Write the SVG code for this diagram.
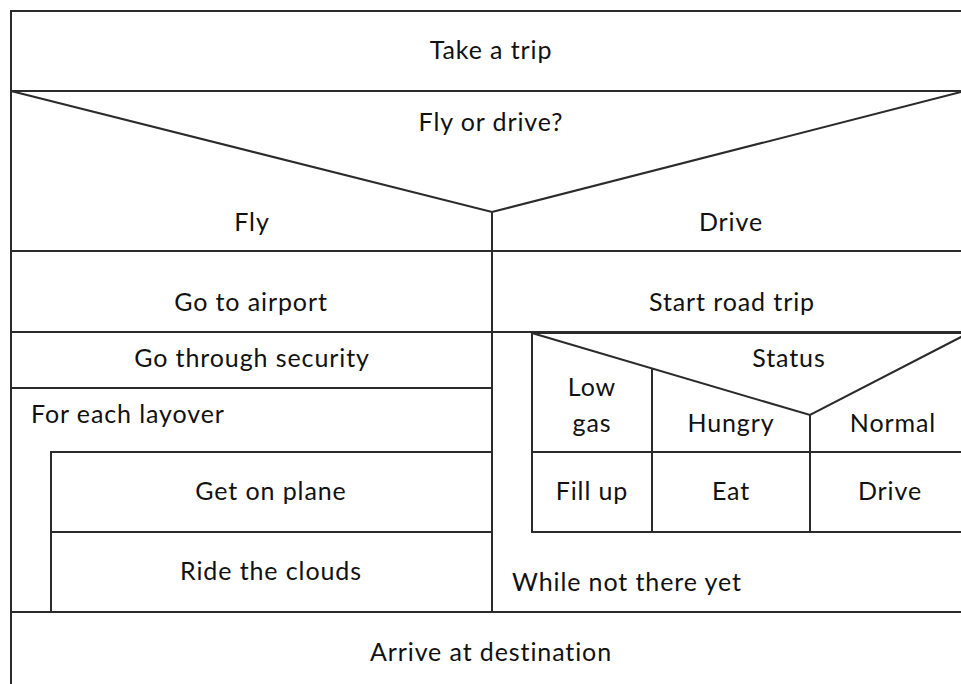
<svg xmlns="http://www.w3.org/2000/svg" width="961" height="684" viewBox="0 0 961 684">
<style>
.l{stroke:#2b2b2b;stroke-width:2;fill:none;stroke-linecap:square}
text{font-family:Lato,"Liberation Sans",sans-serif;font-size:25px;letter-spacing:0.9px;fill:#111}
.c{text-anchor:middle}
</style>
<rect width="961" height="684" fill="#fff"/>
<g id="connectors">
<path class="l" d="M11 11H961M11 11V684M11 91H961M11 91L492 212L961 92M492 212V612M11 251H961M11 332H961M11 388H492M51 452H492M51 532H492M51 452V612M11 612H961"/>
</g>
<g id="n-start"><text class="c" x="491" y="59">Take a trip</text></g>
<g id="n-decision"><text class="c" x="491" y="131">Fly or drive?</text><text class="c" x="252" y="231">Fly</text><text class="c" x="731" y="231">Drive</text></g>
<g id="n-airport"><text class="c" x="251" y="311">Go to airport</text></g>
<g id="n-roadtrip"><text class="c" x="732" y="311">Start road trip</text></g>
<g id="n-security"><text class="c" x="252" y="367">Go through security</text></g>
<g id="n-layover"><text x="31" y="423">For each layover</text></g>
<g id="n-plane"><text class="c" x="271" y="500">Get on plane</text></g>
<g id="n-clouds"><text class="c" x="271" y="580">Ride the clouds</text></g>
<g id="n-while"><text x="512" y="591">While not there yet</text></g>
<g id="n-status">
<path class="l" d="M532 333H961M532 333V532H961M532 333L810 415L961 337M652 370V532M810 415V532M532 452H961"/>
<text class="c" x="789" y="367">Status</text>
<text class="c" x="592" y="396">Low</text><text class="c" x="592" y="432">gas</text>
<text class="c" x="731" y="432">Hungry</text>
<text class="c" x="893" y="432">Normal</text>
</g>
<g id="n-fill"><text class="c" x="592" y="500">Fill up</text></g>
<g id="n-eat"><text class="c" x="731" y="500">Eat</text></g>
<g id="n-drive"><text class="c" x="890" y="500">Drive</text></g>
<g id="n-arrive"><text class="c" x="491" y="661">Arrive at destination</text></g>
</svg>
